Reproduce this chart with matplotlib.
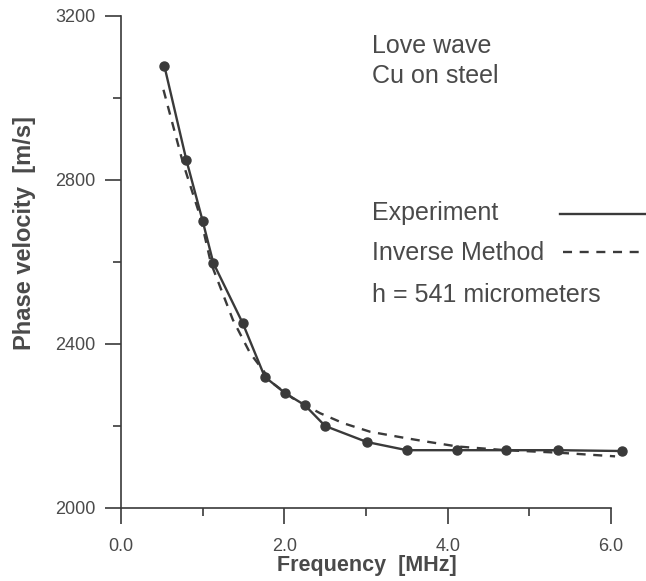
import matplotlib
matplotlib.use("Agg")
import matplotlib.pyplot as plt
from matplotlib.lines import Line2D
from matplotlib.ticker import FixedLocator

plt.rcParams['font.family'] = ['Liberation Sans', 'DejaVu Sans']
plt.rcParams['lines.scale_dashes'] = False

# Experiment (measured) phase velocity
exp_freq = [0.53, 0.80, 1.00, 1.13, 1.49, 1.76, 2.01, 2.25, 2.50, 3.01, 3.50, 4.12, 4.71, 5.35, 6.13]
exp_vel = [3079, 2849, 2700, 2598, 2451, 2320, 2280, 2251, 2200, 2161, 2141, 2141, 2141, 2141, 2139]

# Inverse method curve
inv_freq = [0.52, 0.76, 0.97, 1.10, 1.37, 1.58, 1.86, 2.10, 2.44, 2.72, 3.05, 3.50, 3.74, 4.12, 4.71, 5.35, 6.05]
inv_vel = [3020, 2841, 2711, 2598, 2459, 2378, 2304, 2268, 2231, 2207, 2186, 2170, 2162, 2150, 2141, 2135, 2126]

x_major = [0.0, 2.0, 4.0, 6.0]
x_minor = [1.0, 3.0, 5.0]
x_labels = ["0.0", "2.0", "4.0", "6.0"]
y_major = [2000, 2400, 2800, 3200]
y_minor = [2200, 2600, 3000]
y_labels = ["2000", "2400", "2800", "3200"]

INK = '#3a3a3a'
TXT = '#4a4a4a'

W, H = 646, 581
fig = plt.figure(figsize=(W / 100, H / 100), dpi=100)
ax = fig.add_axes([121 / W, 1 - 508 / H, 490 / W, 492 / H])

ax.plot(exp_freq, exp_vel, color=INK, lw=1.7, marker='o', ms=6.5, mfc=INK, mec=INK, clip_on=False, zorder=3)
ax.plot(inv_freq, inv_vel, color=INK, lw=1.7, dashes=(6.5, 5.5), clip_on=False, zorder=2)

ax.set_xlim(0, 6)
ax.set_ylim(2000, 3200)
for s in ['top', 'right']:
    ax.spines[s].set_visible(False)
for s in ['left', 'bottom']:
    ax.spines[s].set_color(INK)
    ax.spines[s].set_linewidth(1.2)

ax.xaxis.set_major_locator(FixedLocator(x_major))
ax.xaxis.set_minor_locator(FixedLocator(x_minor))
ax.set_xticklabels(x_labels)
ax.yaxis.set_major_locator(FixedLocator(y_major))
ax.yaxis.set_minor_locator(FixedLocator(y_minor))
ax.set_yticklabels(y_labels)

ax.tick_params(axis='both', which='major', direction='out', length=11.5, width=1.2, color=INK,
               labelsize=13, labelcolor=TXT)
ax.tick_params(axis='both', which='minor', direction='out', length=5.5, width=1.2, color=INK)
ax.tick_params(axis='x', which='major', pad=10)
ax.tick_params(axis='y', which='major', pad=7)

fig.text(367 / W, 1 - 566 / H, 'Frequency  [MHz]', ha='center', va='center',
         fontsize=15.5, fontweight='bold', color=TXT)
fig.text(25 / W, 1 - 233 / H, 'Phase velocity  [m/s]', ha='center', va='center',
         rotation=90, fontsize=17, fontweight='bold', color=TXT)

fig.text(372 / W, 1 - 53 / H, 'Love wave', ha='left', va='baseline', fontsize=18, color=TXT)
fig.text(372 / W, 1 - 83 / H, 'Cu on steel', ha='left', va='baseline', fontsize=18, color=TXT)
fig.text(372 / W, 1 - 220 / H, 'Experiment', ha='left', va='baseline', fontsize=18, color=TXT)
fig.text(372 / W, 1 - 260 / H, 'Inverse Method', ha='left', va='baseline', fontsize=18, color=TXT)
fig.text(372 / W, 1 - 302 / H, 'h = 541 micrometers', ha='left', va='baseline', fontsize=18, color=TXT)

fig.add_artist(Line2D([560 / W, 1.0], [1 - 214 / H, 1 - 214 / H], transform=fig.transFigure,
                      color=INK, lw=1.7))
fig.add_artist(Line2D([563 / W, 1.0], [1 - 252 / H, 1 - 252 / H], transform=fig.transFigure,
                      color=INK, lw=1.7, dashes=(6.5, 5.5)))

fig.savefig('out.png', dpi=100)
